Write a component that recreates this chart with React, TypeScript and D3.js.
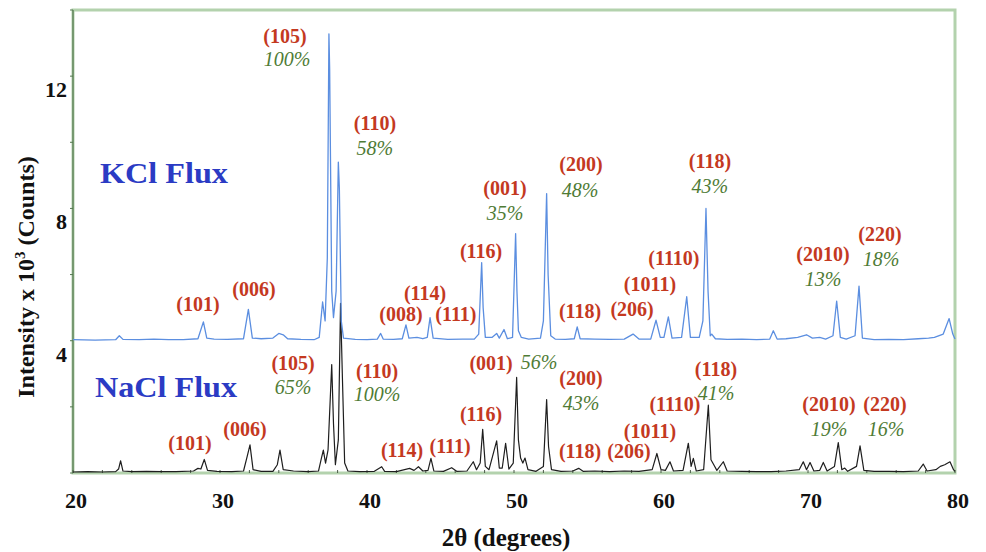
import React from "react";
import * as d3 from "d3";

// ---------- data (2θ in degrees, intensity in 10^3 counts) ----------
const kclTheta = [
  20.0, 21.5, 22.9, 23.15, 23.4, 24.5, 25.5, 26.5, 27.5, 28.5, 28.87, 29.1, 29.6, 30.5, 31.6, 31.93, 32.2, 32.8,
  33.6, 34.0, 34.3, 34.6, 35.5, 36.4, 36.75, 36.98, 37.15, 37.3, 37.41, 37.46, 37.6, 37.72, 37.9, 38.05, 38.12,
  38.25, 38.4, 39.2, 40.0, 40.7, 40.93, 41.1, 41.8, 42.4, 42.65, 42.85, 43.4, 43.8, 44.1, 44.29, 44.5, 45.5, 46.5,
  47.3, 47.6, 47.8, 47.9, 48.05, 48.5, 48.82, 49.0, 49.32, 49.55, 49.9, 50.11, 50.2, 50.3, 50.5, 51.0, 51.8, 52.0,
  52.22, 52.32, 52.5, 52.8, 53.5, 54.1, 54.3, 54.5, 55.5, 56.5, 57.5, 58.1, 58.5, 59.3, 59.66, 59.95, 60.2, 60.5,
  60.75, 61.4, 61.75, 62.0, 62.6, 62.85, 63.06, 63.2, 63.35, 63.45, 63.7, 64.5, 65.5, 66.5, 67.4, 67.64, 67.9,
  68.5, 69.3, 69.9, 70.3, 70.8, 71.2, 71.7, 71.95, 72.2, 72.6, 73.2, 73.47, 73.7, 74.5, 75.5, 76.5, 77.5, 78.2,
  78.6, 79.2, 79.6, 79.85, 80.0,
];
const kclCounts = [
  0.03, 0.02, 0.03, 0.15, 0.04, 0.03, 0.05, 0.03, 0.03, 0.06, 0.57, 0.08, 0.05, 0.04, 0.06, 0.95, 0.08, 0.06,
  0.08, 0.22, 0.18, 0.06, 0.04, 0.03, 0.1, 1.17, 0.6, 2.5, 9.28, 8.2, 1.5, 0.7, 1.5, 5.4, 4.6,
  0.6, 0.08, 0.04, 0.03, 0.05, 0.22, 0.05, 0.04, 0.06, 0.48, 0.08, 0.1, 0.06, 0.1, 0.7, 0.08, 0.04, 0.05,
  0.05, 0.2, 2.36, 1.0, 0.1, 0.1, 0.22, 0.08, 0.34, 0.06, 0.1, 3.24, 1.5, 0.3, 0.1, 0.05, 0.08, 0.6,
  4.45, 2.0, 0.15, 0.05, 0.04, 0.06, 0.42, 0.06, 0.05, 0.04, 0.05, 0.2, 0.05, 0.05, 0.62, 0.1, 0.1, 0.72,
  0.08, 0.1, 1.33, 0.1, 0.1, 0.6, 4.0, 1.5, 0.15, 0.2, 0.06, 0.04, 0.05, 0.03, 0.05, 0.3, 0.05,
  0.06, 0.1, 0.18, 0.08, 0.1, 0.05, 0.15, 1.2, 0.1, 0.05, 0.15, 1.65, 0.08, 0.03, 0.04, 0.03, 0.06, 0.08,
  0.1, 0.2, 0.67, 0.2, 0.05,
];
const kclOffset = 4;

const naclTheta = [
  20.0, 21.0, 22.0, 22.9, 23.1, 23.24, 23.4, 24.0, 25.0, 26.0, 27.0, 28.2, 28.5, 28.7, 28.93, 29.15, 29.8, 30.8,
  31.6, 31.85, 32.04, 32.25, 32.8, 33.6, 33.9, 34.08, 34.3, 35.0, 36.0, 36.7, 36.9, 37.03, 37.18, 37.35, 37.6,
  37.72, 37.85, 38.05, 38.2, 38.32, 38.48, 38.7, 39.5, 40.5, 41.0, 41.2, 42.0, 42.9, 43.2, 43.5, 43.8, 44.15,
  44.35, 44.55, 45.2, 45.76, 46.1, 46.8, 47.23, 47.45, 47.7, 47.87, 48.05, 48.3, 48.82, 49.0, 49.2, 49.43, 49.65,
  49.95, 50.18, 50.3, 50.45, 50.6, 50.75, 50.95, 51.5, 52.0, 52.22, 52.35, 52.55, 53.2, 54.0, 54.4, 54.7, 55.5,
  56.5, 57.5, 58.5, 59.4, 59.72, 60.0, 60.3, 60.61, 60.85, 61.5, 61.86, 62.05, 62.2, 62.4, 62.9, 63.22, 63.4,
  63.6, 63.8, 64.24, 64.5, 65.5, 66.5, 67.5, 68.5, 69.4, 69.68, 69.9, 70.14, 70.4, 70.8, 71.04, 71.3, 71.8,
  72.06, 72.3, 72.5, 72.7, 73.3, 73.54, 73.8, 74.5, 75.5, 76.5, 77.5, 77.84, 78.1, 78.7, 79.0, 79.3, 79.66,
  79.9, 80.0,
];
const naclCounts = [
  0.03, 0.04, 0.03, 0.04, 0.12, 0.37, 0.06, 0.04, 0.05, 0.04, 0.04, 0.06, 0.14, 0.12, 0.41, 0.08, 0.05, 0.04,
  0.06, 0.5, 0.85, 0.1, 0.05, 0.05, 0.25, 0.69, 0.1, 0.06, 0.04, 0.06, 0.45, 0.69, 0.3, 0.7, 3.28,
  1.5, 0.25, 1.0, 5.13, 3.0, 0.3, 0.06, 0.04, 0.05, 0.19, 0.05, 0.04, 0.14, 0.08, 0.19, 0.06, 0.08,
  0.44, 0.06, 0.05, 0.16, 0.05, 0.06, 0.34, 0.1, 0.3, 1.32, 0.2, 0.1, 0.97, 0.15, 0.15, 0.9, 0.12,
  0.3, 2.89, 1.0, 0.45, 0.3, 0.45, 0.1, 0.05, 0.2, 2.22, 0.8, 0.1, 0.05, 0.06, 0.14, 0.05, 0.06,
  0.04, 0.06, 0.05, 0.1, 0.59, 0.1, 0.08, 0.34, 0.06, 0.08, 0.9, 0.2, 0.44, 0.06, 0.1, 2.05, 0.4,
  0.24, 0.08, 0.34, 0.06, 0.05, 0.04, 0.04, 0.06, 0.1, 0.34, 0.1, 0.32, 0.06, 0.08, 0.32, 0.06, 0.2,
  0.92, 0.1, 0.15, 0.05, 0.2, 0.82, 0.08, 0.05, 0.05, 0.04, 0.06, 0.27, 0.06, 0.1, 0.2, 0.25, 0.34,
  0.1, 0.05,
];

const xTicks = [20, 30, 40, 50, 60, 70, 80];
const xMinorTicks = d3.range(20, 81, 2);
const yTicks = [4, 8, 12];
const yMinorTicks = d3.range(0, 14.1, 2);

// annotation labels (anchor in data units: 2θ, intensity)
const hklTexts = [
  "(105)", "(110)", "(001)", "(200)", "(116)", "(118)", "(1110)", "(1011)", "(206)", "(2010)", "(220)",
  "(101)", "(006)", "(008)", "(114)", "(111)", "(118)",
  "(105)", "(110)", "(001)", "(200)", "(116)", "(114)", "(111)", "(118)", "(206)", "(1011)", "(1110)",
  "(118)", "(2010)", "(220)", "(101)", "(006)",
];
const hklTheta = [
  34.42, 40.54, 49.39, 54.56, 47.76, 63.33, 60.88, 59.25, 58.03, 71.02, 74.9,
  28.5, 32.31, 42.31, 43.95, 46.05, 54.49,
  34.97, 40.68, 48.44, 54.56, 47.76, 42.38, 45.65, 54.49, 57.82, 59.25, 60.95,
  63.74, 71.43, 75.24, 27.96, 31.7,
];
const hklValue = [
  12.99, 10.36, 8.4, 9.12, 6.5, 9.21, 6.28, 5.5, 4.74, 6.4, 7.01,
  4.89, 5.35, 4.59, 5.23, 4.59, 4.68,
  3.11, 2.87, 3.11, 2.66, 1.57, 0.48, 0.6, 0.45, 0.45, 1.06, 1.87,
  2.93, 1.87, 1.87, 0.69, 1.12,
];

const pctTexts = ["100%", "58%", "35%", "48%", "43%", "13%", "18%", "65%", "100%", "56%", "43%", "41%", "19%", "16%"];
const pctTheta = [34.56, 40.54, 49.39, 54.49, 63.33, 71.02, 74.97, 34.97, 40.68, 51.7, 54.56, 63.74, 71.43, 75.31];
const pctValue = [12.3, 9.61, 7.64, 8.34, 8.46, 5.65, 6.25, 2.39, 2.18, 3.14, 1.9, 2.21, 1.12, 1.12];

const seriesNames = ["KCl Flux", "NaCl Flux"];
const seriesNameTheta = [26.19, 26.33];
const seriesNameValue = [8.76, 2.3];

// ---------- layout ----------
const W = 986;
const H = 552;
const left = 73;
const right = 955;
const top = 10;
const bottom = 473;

const RED = "#c4391f";
const GREEN = "#4f7b35";
const SERIF = "'Liberation Serif', 'Times New Roman', serif";

export default function App() {
  const x = d3.scaleLinear().domain([20, 80]).range([left, right]);
  const y = d3.scaleLinear().domain([0, 14]).range([bottom, top]);

  const line = d3
    .line<[number, number]>()
    .x((d) => x(d[0]))
    .y((d) => y(d[1]));

  const kclPts: [number, number][] = kclTheta.map((t, i) => [t, kclCounts[i] + kclOffset]);
  const naclPts: [number, number][] = naclTheta.map((t, i) => [t, naclCounts[i]]);

  return (
    <svg
      width={W}
      height={H}
      style={{ position: "absolute", left: 0, top: 0, background: "#fff", display: "block" }}
      fontFamily={SERIF}
    >
      {/* frame */}
      <rect
        x={left}
        y={top}
        width={right - left}
        height={bottom - top}
        fill="#fff"
        stroke="#b3d2ad"
        strokeWidth={3}
      />
      <line x1={left} x2={left} y1={top} y2={bottom} stroke="#557a50" strokeWidth={1.3} />

      {/* y ticks */}
      {yMinorTicks.map((v) => (
        <line key={"yt" + v} x1={left - 3} x2={left} y1={y(v)} y2={y(v)} stroke="#557a50" strokeWidth={1} />
      ))}
      {yTicks.map((v) => (
        <text key={"yl" + v} x={67} y={y(v) + 21} textAnchor="end" fontSize={22} fontWeight="bold" fill="#111">
          {v}
        </text>
      ))}

      {/* x ticks */}
      {xMinorTicks.map((v) => (
        <line key={"xt" + v} x1={x(v)} x2={x(v)} y1={bottom} y2={bottom - 3} stroke="#4a5a48" strokeWidth={1} />
      ))}
      {xTicks.map((v) => (
        <text key={"xl" + v} x={x(v) + 3} y={508} textAnchor="middle" fontSize={22} fontWeight="bold" fill="#111">
          {v}
        </text>
      ))}

      {/* traces */}
      <path d={line(naclPts) || ""} fill="none" stroke="#1e1e1e" strokeWidth={1.2} strokeLinejoin="round" />
      <path d={line(kclPts) || ""} fill="none" stroke="#5b8ee0" strokeWidth={1.3} strokeLinejoin="round" />

      {/* series names */}
      {seriesNames.map((s, i) => (
        <text
          key={"sn" + i}
          x={x(seriesNameTheta[i])}
          y={y(seriesNameValue[i])}
          textAnchor="middle"
          fontSize={29}
          fontWeight="bold"
          fill="#2b3bc4"
          textLength={i === 0 ? 128 : 142}
          lengthAdjust="spacingAndGlyphs"
        >
          {s}
        </text>
      ))}

      {/* hkl labels */}
      {hklTexts.map((s, i) => (
        <text
          key={"h" + i}
          x={x(hklTheta[i])}
          y={y(hklValue[i])}
          textAnchor="middle"
          fontSize={20}
          fontWeight="bold"
          fill={RED}
        >
          {s}
        </text>
      ))}
      {pctTexts.map((s, i) => (
        <text
          key={"p" + i}
          x={x(pctTheta[i])}
          y={y(pctValue[i])}
          textAnchor="middle"
          fontSize={20}
          fontStyle="italic"
          fill={GREEN}
        >
          {s}
        </text>
      ))}

      {/* axis titles */}
      <text x={506} y={546} textAnchor="middle" fontSize={25} fontWeight="bold" fill="#111">
        2θ (degrees)
      </text>
      <text
        transform={`translate(34, 277) rotate(-90)`}
        textAnchor="middle"
        fontSize={24}
        fontWeight="bold"
        fill="#111"
      >
        Intensity x 10<tspan dy={-9} fontSize={15}>3</tspan>
        <tspan dy={9}> (Counts)</tspan>
      </text>
    </svg>
  );
}
